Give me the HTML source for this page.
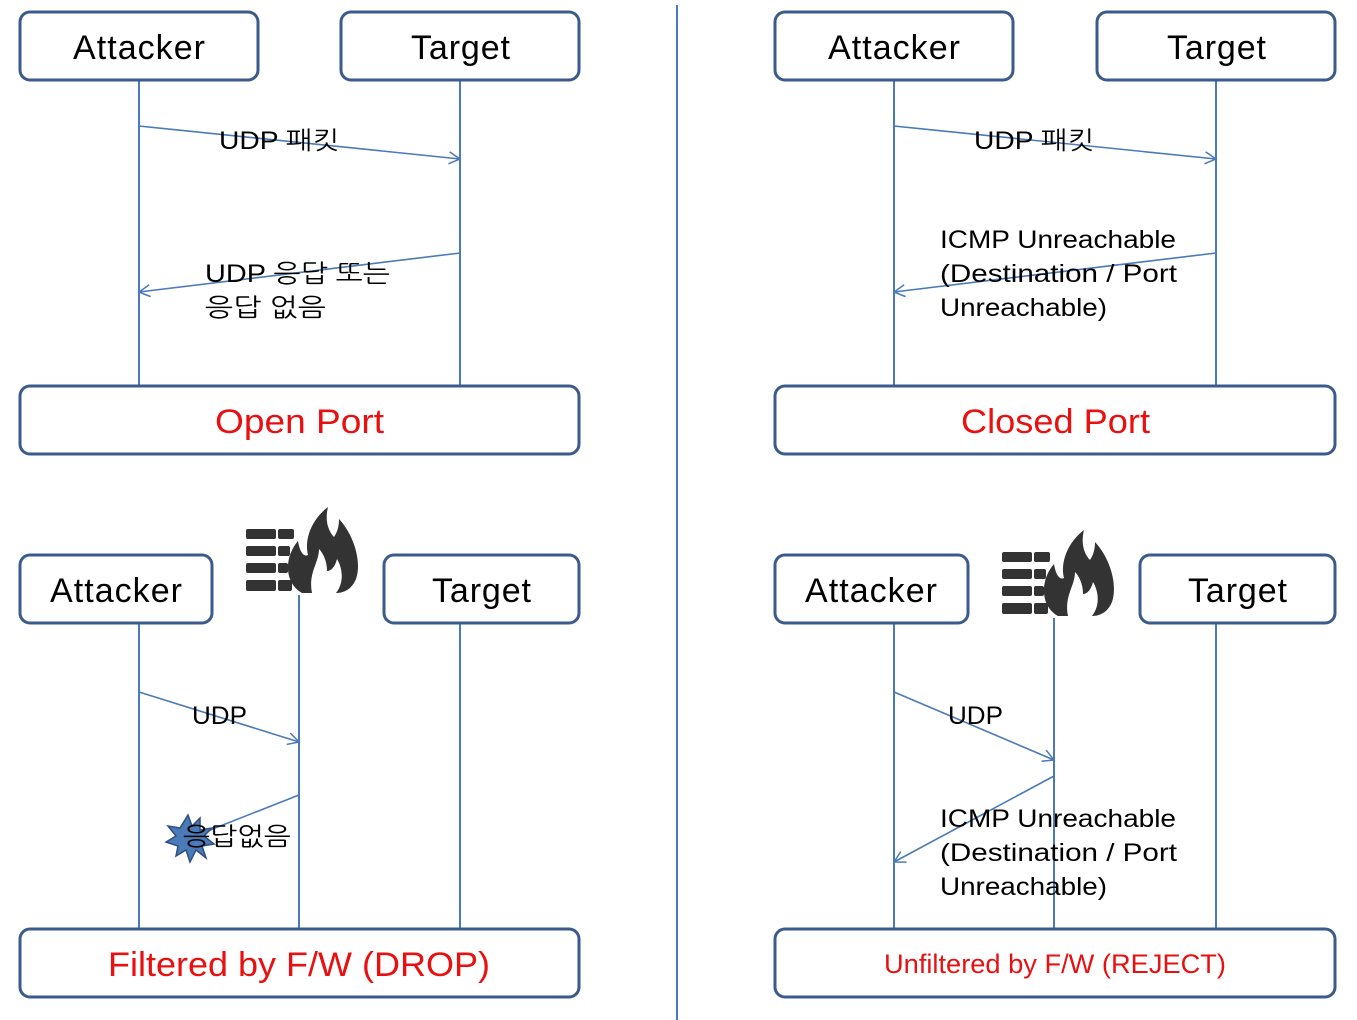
<!DOCTYPE html>
<html><head><meta charset="utf-8"><style>body{margin:0;background:#fff}svg{display:block}</style></head><body>
<svg width="1357" height="1020" xmlns="http://www.w3.org/2000/svg" font-family="'Liberation Sans','NanumGothic','Noto Sans CJK KR',sans-serif">
<defs>
<marker id="a" markerWidth="14" markerHeight="14" refX="12" refY="7" orient="auto" markerUnits="userSpaceOnUse"><path d="M1,1 L12,7 L1,13" fill="none" stroke="#4a7ab8" stroke-width="1.5"/></marker>
<g id="fw">
<g fill="#333">
<rect x="0" y="22" width="30" height="10" rx="2"/><rect x="32" y="22" width="16" height="10" rx="2"/>
<rect x="0" y="39" width="30" height="10" rx="2"/><rect x="32" y="39" width="12" height="10" rx="2"/>
<rect x="0" y="56" width="30" height="10" rx="2"/><rect x="32" y="56" width="10" height="10" rx="2"/>
<rect x="0" y="73" width="30" height="11" rx="2"/><rect x="32" y="73" width="14" height="11" rx="2"/>
<path d="M56,86 C38,76 38,50 52,34 C54,46 58,50 62,48 C58,32 66,12 82,0 C78,16 84,26 88,30 C92,24 93,18 93,12 C108,28 116,55 110,72 C106,82 98,86 90,86 C98,76 97,62 91,52 C89,60 85,64 81,64 C81,54 77,46 73,42 C73,56 62,66 66,86 Z"/>
</g></g>
</defs>
<g fill="none" stroke="#4a7ab8" stroke-width="2">
<line x1="677" y1="5" x2="677" y2="1020"/>
<line x1="139" y1="80" x2="139" y2="386"/><line x1="460" y1="80" x2="460" y2="386"/>
<line x1="894" y1="80" x2="894" y2="386"/><line x1="1216" y1="80" x2="1216" y2="386"/>
<line x1="139" y1="623" x2="139" y2="929"/><line x1="299" y1="595" x2="299" y2="929"/><line x1="460" y1="623" x2="460" y2="929"/>
<line x1="894" y1="623" x2="894" y2="929"/><line x1="1054" y1="618" x2="1054" y2="929"/><line x1="1216" y1="623" x2="1216" y2="929"/>
</g>
<g fill="none" stroke="#4a7ab8" stroke-width="1.6" marker-end="url(#a)">
<line x1="139" y1="126" x2="460" y2="159"/><line x1="460" y1="253" x2="139" y2="292"/>
<line x1="894" y1="126" x2="1216" y2="159"/><line x1="1216" y1="253" x2="894" y2="292"/>
<line x1="139" y1="692" x2="299" y2="742"/>
<line x1="894" y1="692" x2="1054" y2="760"/><line x1="1054" y1="776" x2="894" y2="862"/>
</g>
<line x1="299" y1="795" x2="205" y2="832" stroke="#4a7ab8" stroke-width="1.6"/>
<g fill="#fff" stroke="#3b5b8c" stroke-width="3">
<rect x="20" y="12" width="238" height="68" rx="10"/><rect x="341" y="12" width="238" height="68" rx="10"/>
<rect x="775" y="12" width="238" height="68" rx="10"/><rect x="1097" y="12" width="238" height="68" rx="10"/>
<rect x="20" y="386" width="559" height="68" rx="10"/><rect x="775" y="386" width="560" height="68" rx="10"/>
<rect x="20" y="555" width="192" height="68" rx="10"/><rect x="384" y="555" width="195" height="68" rx="10"/>
<rect x="775" y="555" width="193" height="68" rx="10"/><rect x="1140" y="555" width="195" height="68" rx="10"/>
<rect x="20" y="929" width="559" height="68" rx="10"/><rect x="775" y="929" width="560" height="68" rx="10"/>
</g>
<use href="#fw" x="246" y="507"/><use href="#fw" x="1002" y="530"/>
<polygon points="188,815 192,826 200,818 200,830 212,828 204,836 214,844 202,846 206,858 196,850 190,862 186,850 176,856 178,846 166,842 176,836 168,826 180,828" fill="#4a7ab8" stroke="#2f4f7f" stroke-width="1.5"/>
<g font-size="34" fill="#000" lengthAdjust="spacingAndGlyphs">
<text x="73" y="59" textLength="132">Attacker</text><text x="411" y="59" textLength="99">Target</text>
<text x="828" y="59" textLength="132">Attacker</text><text x="1167" y="59" textLength="99">Target</text>
<text x="50" y="602" textLength="132">Attacker</text><text x="432" y="602" textLength="99">Target</text>
<text x="805" y="602" textLength="132">Attacker</text><text x="1188" y="602" textLength="99">Target</text>
</g>
<g font-size="34" fill="#e81010">
<text x="215" y="433" textLength="169" lengthAdjust="spacingAndGlyphs">Open Port</text>
<text x="961" y="433" textLength="189" lengthAdjust="spacingAndGlyphs">Closed Port</text>
<text x="108" y="976" textLength="382" lengthAdjust="spacingAndGlyphs">Filtered by F/W (DROP)</text>
<text x="884" y="973" font-size="27" textLength="342" lengthAdjust="spacingAndGlyphs">Unfiltered by F/W (REJECT)</text>
</g>
<g font-size="25" fill="#000">
<text x="219" y="149" textLength="120" lengthAdjust="spacingAndGlyphs">UDP 패킷</text>
<text x="974" y="149" textLength="120" lengthAdjust="spacingAndGlyphs">UDP 패킷</text>
<text x="205" y="282" textLength="185" lengthAdjust="spacingAndGlyphs">UDP 응답 또는</text>
<text x="205" y="316" textLength="121" lengthAdjust="spacingAndGlyphs">응답 없음</text>
<text x="940" y="248" textLength="236" lengthAdjust="spacingAndGlyphs">ICMP Unreachable</text>
<text x="940" y="282" textLength="237" lengthAdjust="spacingAndGlyphs">(Destination / Port</text>
<text x="940" y="316" textLength="167" lengthAdjust="spacingAndGlyphs">Unreachable)</text>
<text x="192" y="724" textLength="55" lengthAdjust="spacingAndGlyphs">UDP</text>
<text x="948" y="724" textLength="55" lengthAdjust="spacingAndGlyphs">UDP</text>
<text x="183" y="845" textLength="108" lengthAdjust="spacingAndGlyphs">응답없음</text>
<text x="940" y="827" textLength="236" lengthAdjust="spacingAndGlyphs">ICMP Unreachable</text>
<text x="940" y="861" textLength="237" lengthAdjust="spacingAndGlyphs">(Destination / Port</text>
<text x="940" y="895" textLength="167" lengthAdjust="spacingAndGlyphs">Unreachable)</text>
</g>
</svg>
</body></html>
